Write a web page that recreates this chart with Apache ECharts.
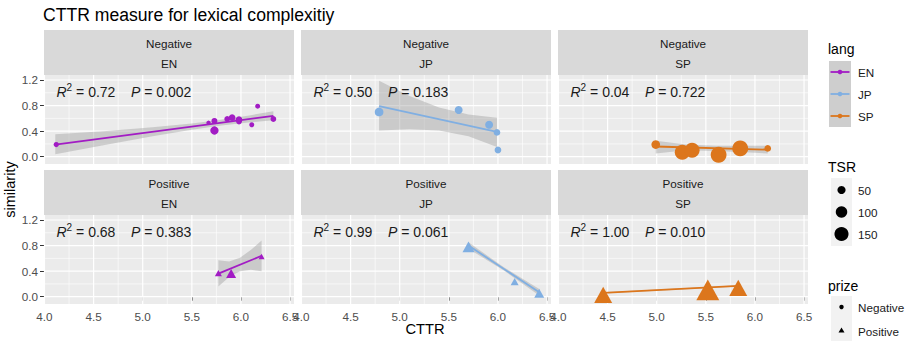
<!DOCTYPE html>
<html>
<head>
<meta charset="utf-8">
<script src="https://cdn.jsdelivr.net/npm/echarts@6/dist/echarts.min.js"></script>
<style>
html,body{margin:0;padding:0;background:#fff}
#main{width:907px;height:341px}
</style>
</head>
<body>
<div id="main"></div>
<script>
var langs = ['EN', 'JP', 'SP'];
var prizes = ['Negative', 'Positive'];
var xTicks = [4.0, 4.5, 5.0, 5.5, 6.0, 6.5];
var xMinor = [4.25, 4.75, 5.25, 5.75, 6.25];
var yTicks = [0.0, 0.4, 0.8, 1.2];
var yMinor = [0.2, 0.6, 1.0];
var tsrBreaks = [50, 100, 150];
var r2Vals = ['0.72', '0.50', '0.04', '0.68', '0.99', '1.00'];
var pVals = ['0.002', '0.183', '0.722', '0.383', '0.061', '0.010'];

// Negative / EN
var negEN_cttr = [4.12, 5.67, 5.73, 5.73, 5.86, 5.91, 5.98, 5.98, 6.11, 6.17, 6.33];
var negEN_sim  = [0.19, 0.53, 0.56, 0.41, 0.59, 0.61, 0.58, 0.55, 0.50, 0.79, 0.59];
var negEN_tsr  = [21, 15, 27, 52, 25, 34, 34, 25, 19, 19, 25];
var negEN_bandX  = [4.11, 4.6, 5.1, 5.5, 5.8, 6.1, 6.33];
var negEN_bandLo = [0.04, 0.18, 0.32, 0.42, 0.49, 0.54, 0.57];
var negEN_bandHi = [0.35, 0.40, 0.46, 0.52, 0.58, 0.65, 0.71];
var negEN_fit    = [0.19, 0.64];

// Negative / JP
var negJP_cttr = [4.79, 5.60, 5.91, 5.99, 6.00];
var negJP_sim  = [0.70, 0.73, 0.50, 0.38, 0.105];
var negJP_tsr  = [57, 48, 48, 34, 34];
var negJP_bandX  = [4.79, 5.1, 5.4, 5.7, 5.99];
var negJP_bandLo = [0.41, 0.43, 0.41, 0.32, 0.15];
var negJP_bandHi = [1.19, 0.95, 0.77, 0.66, 0.61];
var negJP_fit    = [0.79, 0.39];

// Negative / SP
var negSP_cttr = [4.99, 5.26, 5.36, 5.63, 5.85, 6.13];
var negSP_sim  = [0.19, 0.07, 0.10, 0.03, 0.13, 0.13];
var negSP_tsr  = [57, 170, 170, 190, 190, 34];
var negSP_bandX  = [4.99, 5.3, 5.6, 5.9, 6.13];
var negSP_bandLo = [0.05, 0.10, 0.09, 0.07, 0.05];
var negSP_bandHi = [0.25, 0.19, 0.17, 0.17, 0.17];
var negSP_fit    = [0.16, 0.11];

// Positive / EN
var posEN_cttr = [5.77, 5.90, 6.21];
var posEN_sim  = [0.38, 0.38, 0.64];
var posEN_tsr  = [27, 55, 20];
var posEN_bandX  = [5.77, 5.88, 5.99, 6.1, 6.21];
var posEN_bandLo = [0.16, 0.31, 0.40, 0.42, 0.40];
var posEN_bandHi = [0.57, 0.55, 0.61, 0.73, 0.88];
var posEN_fit    = [0.36, 0.64];

// Positive / JP
var posJP_cttr = [5.70, 6.17, 6.42];
var posJP_sim  = [0.80, 0.25, 0.07];
var posJP_tsr  = [79, 35, 55];
var posJP_bandX  = [5.70, 6.06, 6.42];
var posJP_bandLo = [0.75, 0.41, 0.02];
var posJP_bandHi = [0.85, 0.46, 0.12];
var posJP_fit    = [0.80, 0.07];

// Positive / SP
var posSP_cttr = [4.455, 5.52, 5.83];
var posSP_sim  = [0.06, 0.145, 0.17];
var posSP_tsr  = [178, 290, 178];
var posSP_bandX  = [4.455, 5.2, 5.83];
var posSP_bandLo = [0.05, 0.11, 0.16];
var posSP_bandHi = [0.07, 0.13, 0.18];
var posSP_fit    = [0.06, 0.17];

var langColor = { EN: '#A21CC4', JP: '#80AFE2', SP: '#DC761C' };
var FONT = 'Liberation Sans, Arial, sans-serif';
var X_MIN = 3.995, X_MAX = 6.54, Y_MIN = -0.114, Y_MAX = 1.278;
var colLeft = [44, 301, 558], panelW = 250;
var rowTop = [75, 215], panelH = 89, stripH = 45;

var panels = [
  { x: negEN_cttr, y: negEN_sim, t: negEN_tsr, bx: negEN_bandX, lo: negEN_bandLo, hi: negEN_bandHi, fit: negEN_fit },
  { x: negJP_cttr, y: negJP_sim, t: negJP_tsr, bx: negJP_bandX, lo: negJP_bandLo, hi: negJP_bandHi, fit: negJP_fit },
  { x: negSP_cttr, y: negSP_sim, t: negSP_tsr, bx: negSP_bandX, lo: negSP_bandLo, hi: negSP_bandHi, fit: negSP_fit },
  { x: posEN_cttr, y: posEN_sim, t: posEN_tsr, bx: posEN_bandX, lo: posEN_bandLo, hi: posEN_bandHi, fit: posEN_fit },
  { x: posJP_cttr, y: posJP_sim, t: posJP_tsr, bx: posJP_bandX, lo: posJP_bandLo, hi: posJP_bandHi, fit: posJP_fit },
  { x: posSP_cttr, y: posSP_sim, t: posSP_tsr, bx: posSP_bandX, lo: posSP_bandLo, hi: posSP_bandHi, fit: posSP_fit }
];

function dotSize(t) { return 1.15 * Math.sqrt(t); }
function triSize(t) { var s = 1.35 * Math.sqrt(t); return [s, s * 0.9]; }

var chart = echarts.init(document.getElementById('main'), null, { renderer: 'svg' });

var grids = [], xAxes = [], yAxes = [], series = [], graphics = [];

panels.forEach(function (pn, i) {
  var row = Math.floor(i / 3), col = i % 3;
  var lang = langs[col], prize = prizes[row];
  var color = langColor[lang];
  grids.push({ left: colLeft[col], top: rowTop[row], width: panelW, height: panelH,
    show: true, backgroundColor: '#EBEBEB', borderWidth: 0 });
  xAxes.push({ gridIndex: i, type: 'value', min: X_MIN, max: X_MAX,
    axisLine: { show: false }, splitLine: { show: false },
    axisTick: { show: row === 1, customValues: xTicks, length: 4, lineStyle: { color: '#333', width: 1 } },
    axisLabel: { show: row === 1, customValues: xTicks, margin: 6, color: '#4D4D4D', fontSize: 11.7, fontFamily: FONT,
      formatter: function (v) { return v.toFixed(1); } } });
  yAxes.push({ gridIndex: i, type: 'value', min: Y_MIN, max: Y_MAX,
    axisLine: { show: false }, splitLine: { show: false },
    axisTick: { show: col === 0, customValues: yTicks, length: 4, lineStyle: { color: '#333', width: 1 } },
    axisLabel: { show: col === 0, customValues: yTicks, margin: 6, color: '#4D4D4D', fontSize: 11.7, fontFamily: FONT,
      formatter: function (v) { return v.toFixed(1); } } });

  // white grid lines
  series.push({ type: 'custom', xAxisIndex: i, yAxisIndex: i, silent: true, z: 1, clip: false,
    data: [[4, 0]],
    renderItem: function (params, api) {
      var cs = params.coordSys, ch = [];
      function vline(v, w) { var px = api.coord([v, 0])[0];
        ch.push({ type: 'line', shape: { x1: px, y1: cs.y, x2: px, y2: cs.y + cs.height }, style: { stroke: '#fff', lineWidth: w } }); }
      function hline(v, w) { var py = api.coord([4, v])[1];
        ch.push({ type: 'line', shape: { x1: cs.x, y1: py, x2: cs.x + cs.width, y2: py }, style: { stroke: '#fff', lineWidth: w } }); }
      xMinor.forEach(function (v) { vline(v, 0.6); });
      yMinor.forEach(function (v) { hline(v, 0.6); });
      xTicks.forEach(function (v) { vline(v, 1.2); });
      yTicks.forEach(function (v) { hline(v, 1.2); });
      return { type: 'group', children: ch };
    } });

  // confidence band
  series.push({ type: 'custom', xAxisIndex: i, yAxisIndex: i, silent: true, z: 2,
    data: pn.bx.map(function (x, k) { return [x, pn.lo[k], pn.hi[k]]; }),
    encode: { x: 0, y: [1, 2] },
    renderItem: function (params, api) {
      if (params.dataIndex !== 0) return null;
      var pts = [];
      pn.bx.forEach(function (x, k) { pts.push(api.coord([x, pn.hi[k]])); });
      for (var k = pn.bx.length - 1; k >= 0; k--) pts.push(api.coord([pn.bx[k], pn.lo[k]]));
      return { type: 'polygon', shape: { points: pts }, style: { fill: 'rgba(153,153,153,0.4)' } };
    } });

  // points
  series.push({ type: 'scatter', xAxisIndex: i, yAxisIndex: i, silent: true, z: 3,
    symbol: row === 0 ? 'circle' : 'triangle',
    symbolOffset: row === 0 ? [0, 0] : [0, '12%'],
    symbolSize: function (val) { return row === 0 ? dotSize(val[2]) : triSize(val[2]); },
    itemStyle: { color: color, opacity: 1 },
    data: pn.x.map(function (x, k) { return [x, pn.y[k], pn.t[k]]; }) });

  // fitted line
  series.push({ type: 'line', xAxisIndex: i, yAxisIndex: i, silent: true, z: 4,
    showSymbol: false, lineStyle: { color: color, width: 1.8 },
    data: [[pn.bx[0], pn.fit[0]], [pn.bx[pn.bx.length - 1], pn.fit[1]]] });

  // strip
  var sTop = rowTop[row] - stripH;
  graphics.push({ type: 'rect', shape: { x: colLeft[col], y: sTop, width: panelW, height: stripH }, style: { fill: '#D9D9D9' }, silent: true });
  graphics.push({ type: 'text', x: colLeft[col] + panelW / 2, y: sTop + 13.5,
    style: { text: prize, fill: '#1A1A1A', font: '11.7px ' + FONT, align: 'center', verticalAlign: 'middle' } });
  graphics.push({ type: 'text', x: colLeft[col] + panelW / 2, y: sTop + 33.5,
    style: { text: lang, fill: '#1A1A1A', font: '11.7px ' + FONT, align: 'center', verticalAlign: 'middle' } });

  // R2 / P annotation
  graphics.push({ type: 'text', x: colLeft[col] + 12.5, y: rowTop[row] + 17, z: 10,
    style: { text: '{i|R}{s|2}{n| = ' + r2Vals[i] + '    }{i|P}{n| = ' + pVals[i] + '}',
      align: 'left', verticalAlign: 'middle',
      rich: {
        i: { fontStyle: 'italic', fontSize: 14, fontFamily: FONT, fill: '#1A1A1A', lineHeight: 20 },
        s: { fontSize: 10, fontFamily: FONT, fill: '#1A1A1A', lineHeight: 10, verticalAlign: 'top' },
        n: { fontSize: 14, fontFamily: FONT, fill: '#1A1A1A', lineHeight: 20 }
      } } });
});

// axis titles
graphics.push({ type: 'text', x: 425, y: 329,
  style: { text: 'CTTR', fill: '#000', font: '14.7px ' + FONT, align: 'center', verticalAlign: 'middle' } });
graphics.push({ type: 'text', x: 10, y: 189.5, rotation: Math.PI / 2,
  style: { text: 'similarity', fill: '#000', font: '14.5px ' + FONT, align: 'center', verticalAlign: 'middle' } });

// legend: lang
var lgX = 829, lgW = 22;
graphics.push({ type: 'text', x: 828, y: 48.5, style: { text: 'lang', fill: '#000', font: '14px ' + FONT, verticalAlign: 'middle' } });
graphics.push({ type: 'rect', shape: { x: lgX, y: 61, width: lgW, height: 66 }, style: { fill: '#CECECE' } });
langs.forEach(function (l, k) {
  var cy = 72 + k * 22;
  graphics.push({ type: 'line', shape: { x1: lgX + 1.5, y1: cy, x2: lgX + lgW - 1.5, y2: cy }, style: { stroke: langColor[l], lineWidth: 1.8 } });
  graphics.push({ type: 'circle', shape: { cx: lgX + lgW / 2, cy: cy, r: 2.3 }, style: { fill: langColor[l] } });
  graphics.push({ type: 'text', x: 858, y: cy, style: { text: l, fill: '#1A1A1A', font: '11.7px ' + FONT, verticalAlign: 'middle' } });
});

// legend: TSR
graphics.push({ type: 'text', x: 828, y: 167, style: { text: 'TSR', fill: '#000', font: '14px ' + FONT, verticalAlign: 'middle' } });
graphics.push({ type: 'rect', shape: { x: 831, y: 178, width: 21, height: 68 }, style: { fill: '#F2F2F2' } });
tsrBreaks.forEach(function (b, k) {
  var cy = 190 + k * 22;
  graphics.push({ type: 'circle', shape: { cx: 841.5, cy: cy, r: dotSize(b) / 2 }, style: { fill: '#000' } });
  graphics.push({ type: 'text', x: 858, y: cy, style: { text: String(b), fill: '#1A1A1A', font: '11.7px ' + FONT, verticalAlign: 'middle' } });
});

// legend: prize
graphics.push({ type: 'text', x: 828, y: 286, style: { text: 'prize', fill: '#000', font: '14px ' + FONT, verticalAlign: 'middle' } });
graphics.push({ type: 'rect', shape: { x: 831, y: 296, width: 21, height: 46 }, style: { fill: '#F2F2F2' } });
graphics.push({ type: 'circle', shape: { cx: 841.5, cy: 307, r: 2.2 }, style: { fill: '#000' } });
graphics.push({ type: 'polygon', shape: { points: [[841.5, 327.5], [838.5, 332.5], [844.5, 332.5]] }, style: { fill: '#000' } });
prizes.forEach(function (p, k) {
  graphics.push({ type: 'text', x: 858, y: 307 + k * 24, style: { text: p, fill: '#1A1A1A', font: '11.7px ' + FONT, verticalAlign: 'middle' } });
});

chart.setOption({
  animation: false,
  title: { text: 'CTTR measure for lexical complexitiy', left: 43, top: 6, padding: 0,
    textStyle: { fontSize: 17.6, fontWeight: 'normal', color: '#000', fontFamily: FONT } },
  grid: grids,
  xAxis: xAxes,
  yAxis: yAxes,
  series: series,
  graphic: { elements: graphics }
});
</script>
</body>
</html>
